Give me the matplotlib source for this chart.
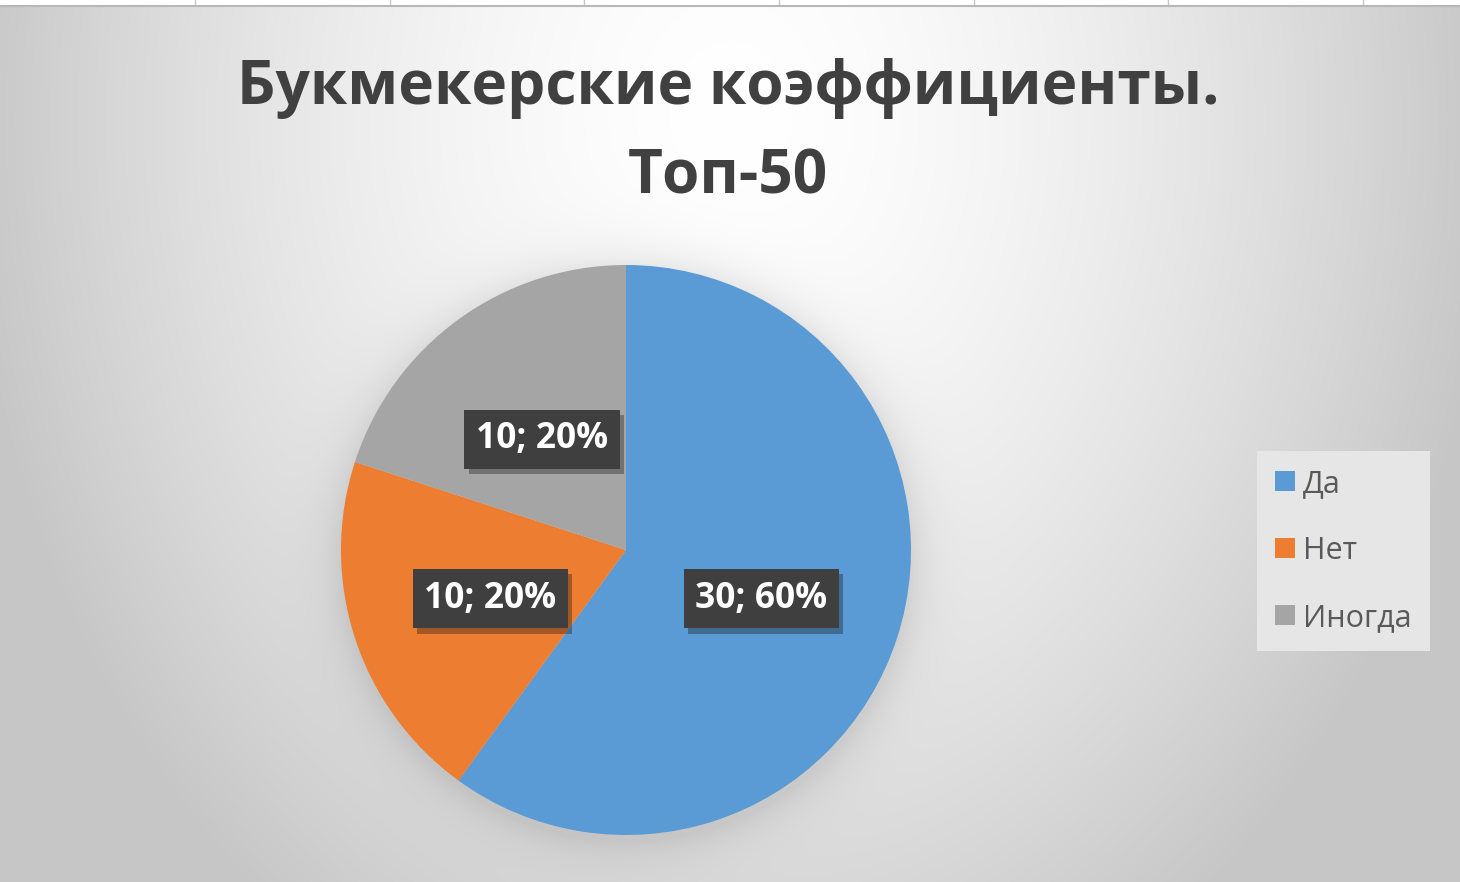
import numpy as np
import matplotlib
matplotlib.use("Agg")
import matplotlib.pyplot as plt
from matplotlib import patheffects as pe
from matplotlib.patches import Rectangle

plt.rcParams['font.family'] = ['Open Sans', 'DejaVu Sans']

title = "Букмекерские коэффициенты.\nТоп-50"
categories = ["Да", "Нет", "Иногда"]
values = [30, 10, 10]
colors = ["#5B9BD5", "#ED7D31", "#A5A5A5"]

W, H = 1460, 882
fig = plt.figure(figsize=(W / 100, H / 100), dpi=100)

# ---- background (radial gradient + soft pie shadow) ----
bg = fig.add_axes([0, 0, 1, 1], zorder=0)
yy, xx = np.mgrid[0:H, 0:W]
d = np.sqrt(((xx - 730) / 760.0) ** 2 + ((yy - 120) / 980.0) ** 2)
d = np.clip(d, 0, 1)
val = 1.0 - 0.22 * d ** 1.6
cx, cy, r = 626, 556, 285
dist = np.sqrt((xx - cx) ** 2 + (yy - cy) ** 2) - r
shadow = np.where(dist > 0, np.exp(-dist / 22.0), 1.0)
val = val * (1 - 0.10 * shadow)
img = np.dstack([val, val, val])
bg.imshow(img, extent=[0, W, H, 0], aspect='auto', interpolation='bilinear')
bg.set_xlim(0, W)
bg.set_ylim(H, 0)
bg.axis('off')
bg.add_patch(Rectangle((0, 0), W, 5, facecolor='white', edgecolor='none'))
for gx in [195, 390, 584, 779, 974, 1168, 1363]:
    bg.plot([gx, gx], [0, 5], color='#c8c8c8', lw=1)
bg.plot([0, W], [5.5, 5.5], color='#b8b8b8', lw=1.5)

# ---- pie ----
R = 285
ax = fig.add_axes([(626 - R) / W, (H - 550 - R) / H, 2 * R / W, 2 * R / H], zorder=2)
total = sum(values)


def fmt(p):
    v = int(round(p * total / 100.0))
    return f"{v}; {p:.0f}%"


wedges, texts, autotexts = ax.pie(values, colors=colors, startangle=90, counterclock=False,
                                  autopct=fmt, pctdistance=0.5, radius=1.0,
                                  wedgeprops=dict(linewidth=0))
for t in autotexts:
    t.set_color('white')
    t.set_fontsize(25.5)
    t.set_fontweight('bold')
    t.set_va('center_baseline')
    t.set_bbox(dict(boxstyle='square,pad=0.33', facecolor='#3f3f3f', edgecolor='none'))
    t.get_bbox_patch().set_path_effects([pe.SimplePatchShadow(offset=(3, -4), alpha=0.35),
                                         pe.Normal()])
ax.set_xlim(-1, 1)
ax.set_ylim(-1, 1)

# ---- title ----
fig.text(728 / W, 1 - 133 / H, title, ha='center', va='center', fontsize=43.5,
         fontweight='bold', color='#404040', linespacing=1.62, zorder=3)

# ---- legend ----
leg = fig.legend(wedges, categories, loc='center left',
                 bbox_to_anchor=(1257 / W, 1 - 551 / H), fontsize=22,
                 frameon=True, facecolor='#e6e6e6', edgecolor='none', framealpha=1,
                 fancybox=False, handlelength=0.65, handleheight=0.65,
                 handletextpad=0.25, labelspacing=1.21, borderpad=0.6, borderaxespad=0)
for t in leg.get_texts():
    t.set_color('#595959')
leg.set_zorder(3)

fig.savefig("out.png", dpi=100)
